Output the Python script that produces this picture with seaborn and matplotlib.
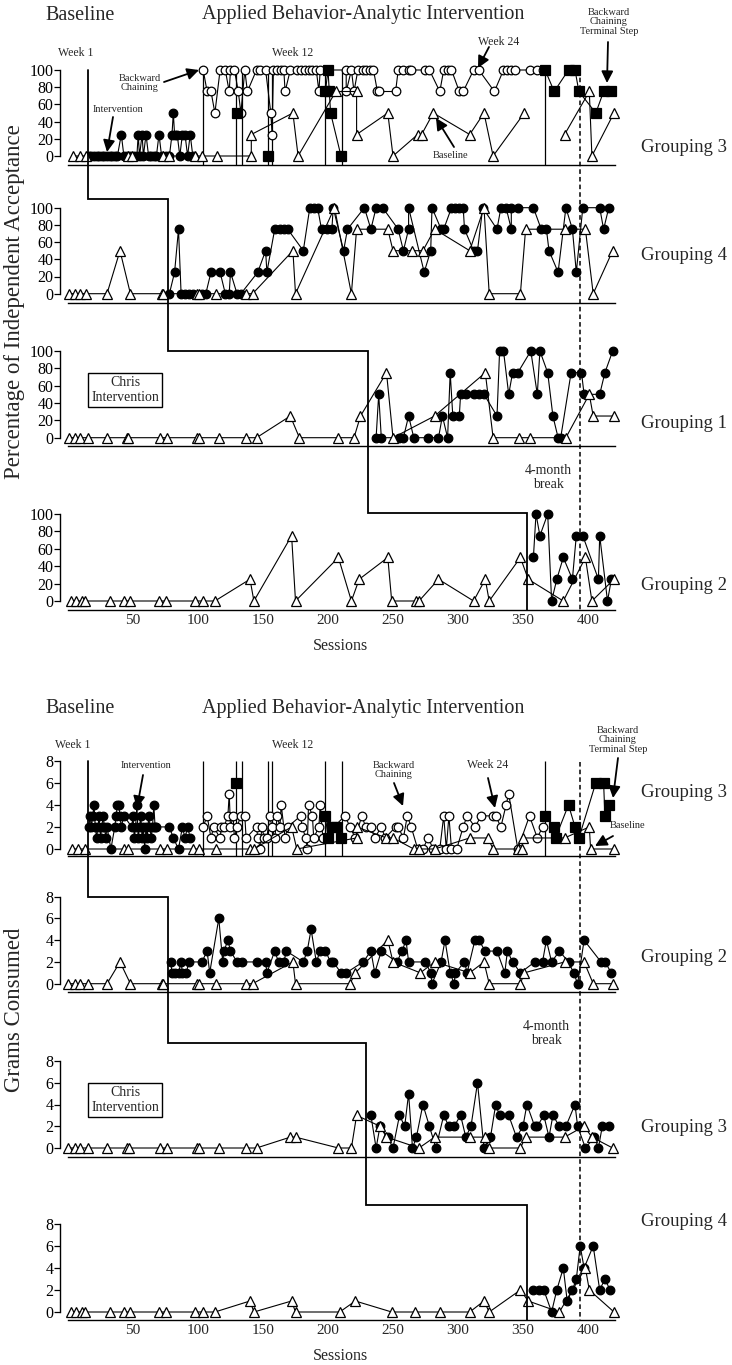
import matplotlib
matplotlib.use("Agg")
import matplotlib.pyplot as plt
import seaborn as sns

# ---------------- data: percentage of independent acceptance ----------------
# panel A1 (Grouping 3)
a1_tri_s = [4, 9, 14, 46, 49, 73, 78, 98, 103, 115, 141, 141, 173, 177, 206, 222, 222, 246, 250, 269,
            272, 281, 309, 320, 327, 351, 382, 401, 403, 420]
a1_tri_v = [0, 0, 0, 0, 0, 0, 0, 0, 0, 0, 0, 25, 50, 0, 75, 75, 25, 50, 0, 25,
            25, 50, 25, 50, 0, 50, 25, 75, 0, 50]
a1_tri_u = [0] * 26 + [1] * 4
a1_dot_s = [16, 18, 20, 22, 24, 26, 28, 30, 32, 34, 36, 38, 41, 43, 45, 48, 51, 53, 54, 55, 57, 58,
            60, 62, 64, 66, 68, 70, 72, 75, 78, 80, 81, 82, 84, 86, 88, 90, 92, 94, 96]
a1_dot_v = [0, 0, 0, 0, 0, 0, 0, 0, 0, 0, 0, 0, 25, 0, 0, 0, 0, 0, 25, 0, 25, 0,
            25, 0, 0, 0, 0, 25, 0, 0, 0, 25, 50, 25, 25, 0, 25, 25, 0, 25, 0]
a1_open_s = [104, 107, 110, 113, 117, 121, 124, 125, 128, 131, 133, 136, 138, 145, 148, 152, 156, 157,
             158, 161, 164, 166, 167, 171, 176, 179, 182, 185, 188, 191, 193, 194, 214, 214, 218, 220,
             223, 227, 229, 232, 235, 238, 239, 252, 254, 258, 262, 264, 275, 278, 286, 289, 292, 295,
             301, 304, 312, 316, 328, 335, 338, 341, 344, 355, 361, 365]
a1_open_v = [100, 75, 75, 50, 100, 100, 75, 100, 100, 75, 50, 100, 75, 100, 100, 100, 50, 25,
             100, 100, 100, 100, 75, 100, 100, 100, 100, 100, 100, 100, 75, 100, 100, 75, 100, 75,
             100, 100, 100, 100, 100, 75, 75, 75, 100, 100, 100, 100, 100, 100, 75, 100, 100, 100,
             75, 75, 100, 100, 75, 100, 100, 100, 100, 100, 100, 100]
a1_sq_s = [130, 154, 198, 200, 201, 202, 210, 367, 374, 385, 390, 393, 406, 412, 418]
a1_sq_v = [50, 0, 75, 100, 75, 50, 0, 100, 75, 100, 100, 75, 50, 75, 75]
a1_sq_u = [0, 1, 2, 2, 2, 2, 2, 3, 3, 3, 3, 3, 3, 3, 3]

# panel A2 (Grouping 4)
a2_tri_s = [1, 5, 9, 14, 30, 40, 48, 72, 73, 99, 101, 114, 137, 142, 173, 175, 205, 218, 222, 246,
            250, 265, 273, 282, 309, 320, 324, 348, 352, 382, 398, 404, 419]
a2_tri_v = [0, 0, 0, 0, 0, 50, 0, 0, 0, 0, 0, 0, 0, 0, 50, 0, 100, 0, 75, 75,
            50, 50, 50, 75, 50, 100, 0, 0, 75, 75, 75, 0, 50]
a2_dot_s = [78, 82, 85, 87, 90, 93, 96, 103, 106, 110, 117, 121, 124, 125, 130, 133, 146, 152, 153, 159,
            163, 166, 169, 181, 186, 189, 192, 195, 199, 203, 204, 212, 215, 228, 233, 237, 242, 254,
            258, 262, 262, 274, 279, 280, 287, 289, 295, 298, 301, 304, 305, 312, 315, 319, 330, 333,
            337, 341, 341, 346, 358, 364, 368, 370, 377, 383, 388, 391, 396, 409, 412, 416]
a2_dot_v = [0, 25, 75, 0, 0, 0, 0, 0, 0, 25, 25, 0, 0, 25, 0, 0, 25, 50, 25, 75,
            75, 75, 75, 50, 100, 100, 100, 75, 75, 75, 100, 50, 75, 100, 75, 100, 100, 75,
            50, 75, 100, 25, 50, 100, 75, 75, 100, 100, 100, 100, 75, 50, 50, 100, 75, 100,
            100, 75, 100, 100, 100, 75, 75, 50, 25, 100, 75, 25, 100, 100, 75, 100]

# panel A3 (Grouping 1)
a3_tri_s = [1, 5, 9, 15, 30, 45, 46, 71, 76, 99, 101, 116, 137, 145, 171, 178, 208, 220, 225, 245,
            250, 282, 321, 327, 347, 355, 383, 401, 404, 420]
a3_tri_v = [0, 0, 0, 0, 0, 0, 0, 0, 0, 0, 0, 0, 0, 0, 25, 0, 0, 0, 25, 75,
            0, 25, 75, 0, 0, 0, 0, 50, 25, 25]
a3_dot_s = [237, 239, 241, 255, 258, 262, 266, 277, 285, 288, 292, 294, 296, 301, 302, 306, 312, 316,
            320, 330, 332, 335, 339, 342, 346, 356, 361, 363, 369, 373, 377, 379, 387, 395, 397, 409,
            413, 419]
a3_dot_v = [0, 50, 0, 0, 0, 25, 0, 0, 0, 25, 0, 75, 25, 25, 50, 50, 50, 50,
            50, 25, 100, 100, 50, 75, 75, 100, 50, 100, 75, 25, 0, 0, 75, 75, 50, 50,
            75, 100]

# panel A4 (Grouping 2)
a4_tri_s = [2, 6, 11, 13, 32, 43, 48, 70, 75, 98, 104, 113, 140, 143, 172, 175, 208, 218, 224, 246,
            249, 268, 270, 285, 312, 321, 324, 348, 354, 381, 398, 403, 420]
a4_tri_v = [0, 0, 0, 0, 0, 0, 0, 0, 0, 0, 0, 0, 25, 0, 75, 0, 50, 0, 25, 50,
            0, 0, 0, 25, 0, 25, 0, 50, 25, 0, 50, 0, 25]
a4_dot_s = [358, 360, 363, 369, 372, 376, 381, 388, 391, 396, 408, 409, 415, 418]
a4_dot_v = [50, 100, 75, 100, 0, 25, 50, 25, 75, 75, 25, 75, 0, 25]

# ---------------- data: grams consumed ----------------
# panel B1 (Grouping 3)
b1_tri_s = [3, 8, 13, 43, 46, 71, 76, 96, 101, 114, 140, 143, 172, 176, 222, 222, 245, 250, 266, 270,
            282, 309, 323, 327, 346, 349, 350, 382, 401, 402, 420]
b1_tri_v = [0, 0, 0, 0, 0, 0, 0, 0, 0, 0, 0, 0, 2, 0, 1, 2, 1, 1, 0, 0,
            0, 1, 1, 0, 0, 0, 1, 1, 2, 0, 0]
b1_dot_s = [16, 17, 18, 19, 20, 21, 22, 23, 24, 25, 26, 27, 28, 29, 30, 33, 36, 37, 38, 39, 40, 41, 43,
            49, 50, 51, 52, 53, 54, 55, 56, 57, 58, 59, 60, 61, 62, 63, 64, 65, 66, 67, 68,
            78, 81, 85, 88, 90, 92, 94]
b1_dot_v = [2, 3, 2, 3, 4, 2, 1, 2, 3, 1, 2, 3, 2, 1, 2, 0, 2, 3, 4, 4, 3, 2, 3,
            2, 3, 1, 2, 4, 1, 2, 3, 1, 2, 0, 2, 1, 3, 2, 1, 2, 4, 2, 2,
            2, 1, 0, 2, 1, 2, 1]
b1_open_s = [104, 107, 110, 112, 117, 118, 120, 123, 124, 125, 127, 128, 130, 133, 136, 137, 145, 146,
             148, 149, 151, 153, 155, 157, 159, 161, 163, 164, 167, 169, 179, 180, 183, 184, 185, 188,
             189, 193, 194, 196, 213, 217, 221, 226, 229, 233, 236, 241, 244, 252, 254, 258, 261, 264,
             269, 273, 277, 281, 286, 289, 291, 293, 295, 299, 304, 307, 313, 318, 327, 329, 333, 337,
             339, 346, 355, 361, 365]
b1_open_v = [2, 3, 1, 2, 1, 2, 2, 3, 5, 2, 3, 1, 2, 3, 3, 1, 2, 1,
             0, 2, 1, 1, 3, 2, 1, 3, 2, 4, 1, 2, 3, 2, 1, 0, 4, 3,
             1, 2, 4, 1, 3, 2, 1, 3, 2, 2, 1, 2, 1, 2, 2, 1, 3, 2,
             0, 0, 1, 0, 0, 3, 0, 3, 0, 0, 2, 3, 2, 3, 3, 3, 2, 4,
             5, 0, 3, 1, 2]
b1_sq_s = [129, 198, 200, 203, 206, 210, 367, 374, 375, 385, 390, 393, 406, 412, 413, 416]
b1_sq_v = [6, 3, 1, 2, 2, 1, 3, 2, 1, 4, 2, 1, 6, 6, 3, 4]
b1_sq_u = [0, 1, 1, 1, 1, 1, 2, 2, 2, 2, 2, 2, 2, 2, 2, 2]

# panel B2 (Grouping 2)
b2_tri_s = [0, 5, 9, 15, 30, 40, 48, 72, 73, 99, 101, 114, 137, 142, 173, 175, 217, 221, 246, 250,
            271, 282, 309, 320, 324, 348, 351, 382, 397, 404, 419]
b2_tri_v = [0, 0, 0, 0, 0, 2, 0, 0, 0, 0, 0, 0, 0, 0, 2, 0, 0, 1, 4, 2,
            1, 2, 1, 2, 0, 0, 1, 2, 2, 0, 0]
b2_dot_s = [79, 80, 82, 85, 87, 88, 91, 93, 103, 107, 109, 116, 119, 120, 123, 125, 130, 134, 145, 152,
            153, 159, 162, 166, 168, 181, 184, 187, 191, 194, 198, 202, 204, 210, 214, 227, 233, 236,
            241, 253, 257, 260, 262, 275, 279, 280, 287, 290, 294, 297, 298, 305, 307, 313, 316, 321,
            330, 336, 338, 342, 348, 359, 365, 368, 372, 378, 385, 389, 392, 397, 410, 413, 418]
b2_dot_v = [2, 1, 1, 1, 2, 1, 1, 2, 2, 3, 1, 6, 2, 3, 4, 3, 2, 2, 2, 2,
            1, 3, 2, 2, 3, 2, 3, 5, 2, 3, 3, 2, 2, 1, 1, 2, 3, 1,
            3, 2, 3, 4, 2, 2, 1, 0, 2, 4, 1, 0, 1, 2, 1, 4, 4, 3,
            3, 1, 3, 2, 1, 2, 2, 4, 2, 3, 2, 1, 0, 4, 2, 2, 1]

# panel B3 (Grouping 3)
b3_tri_s = [0, 5, 9, 15, 30, 45, 47, 71, 76, 99, 101, 116, 137, 145, 171, 175, 208, 218, 222, 240,
            245, 270, 282, 309, 321, 324, 348, 352, 382, 397, 403, 419]
b3_tri_v = [0, 0, 0, 0, 0, 0, 0, 0, 0, 0, 0, 0, 0, 0, 1, 1, 0, 0, 3, 2,
            1, 0, 1, 1, 1, 0, 0, 1, 1, 2, 1, 0]
b3_dot_s = [233, 237, 240, 246, 250, 255, 259, 262, 265, 268, 273, 278, 283, 289, 293, 297, 302, 306,
            310, 315, 320, 325, 329, 332, 339, 345, 350, 353, 359, 361, 366, 370, 373, 378, 383, 390,
            392, 398, 405, 408, 411, 416]
b3_dot_v = [3, 0, 2, 1, 0, 3, 2, 5, 0, 1, 4, 2, 0, 3, 2, 2, 3, 1,
            2, 6, 0, 1, 4, 3, 3, 1, 2, 4, 2, 2, 3, 1, 3, 2, 2, 4,
            2, 0, 1, 0, 2, 2]

# panel B4 (Grouping 4)
b4_tri_s = [2, 6, 11, 13, 32, 43, 48, 70, 75, 98, 104, 113, 140, 143, 172, 175, 209, 221, 249, 267,
            286, 309, 320, 324, 348, 354, 378, 398, 401, 420]
b4_tri_v = [0, 0, 0, 0, 0, 0, 0, 0, 0, 0, 0, 0, 1, 0, 1, 0, 0, 1, 0, 0,
            0, 0, 1, 0, 2, 1, 0, 4, 2, 0]
b4_dot_s = [358, 362, 366, 372, 376, 381, 384, 388, 391, 394, 397, 404, 409, 413, 417]
b4_dot_v = [2, 2, 2, 0, 2, 4, 1, 2, 3, 6, 4, 6, 2, 3, 2]

# phase changes (sessions)
stair_top = [15, 77, 231, 353]
stair_bot = [15, 77, 229, 353]
phase_lines = [104, 129, 134, 154, 157, 198, 211, 367]
break_session = 394

top_labels = ["Grouping 3", "Grouping 4", "Grouping 1", "Grouping 2"]
bot_labels = ["Grouping 3", "Grouping 2", "Grouping 3", "Grouping 4"]

# ---------------- layout (pixels) ----------------
W, H = 732, 1365
S0, PXS = 68, 1.3           # pixel of session 0, pixels per session
XL = (-6, 425)
LEFT = S0 + XL[0] * PXS
RIGHT = S0 + XL[1] * PXS

sns.set_style("white")
plt.rcParams['font.family'] = ['Liberation Serif', 'DejaVu Serif']

fig = plt.figure(figsize=(W / 100, H / 100), dpi=100)

STYLES = {
    'tri': dict(marker='^', markersize=7.5, markerfacecolor='white'),
    'dot': dict(marker='o', markersize=6.2, markerfacecolor='black'),
    'open': dict(marker='o', markersize=6.2, markerfacecolor='white'),
    'sq': dict(marker='s', markersize=7, markerfacecolor='black'),
}


def series(ax, s, v, kind, units=None):
    if units is None:
        units = [0] * len(s)
    sns.lineplot(x=s, y=v, units=units, estimator=None, sort=False, ax=ax,
                 color='black', lw=0.8, markeredgecolor='black', markeredgewidth=0.9,
                 clip_on=False, legend=False, zorder=3, **STYLES[kind])


def panel(y0, ytop, yline, ymax, ticks, show_x):
    k = (y0 - ytop) / ymax
    line_v = (y0 - yline) / k
    lo = line_v - 4 / k
    hi = ymax + 14 / k
    top = y0 - hi * k
    bot = y0 - lo * k
    ax = fig.add_axes([LEFT / W, 1 - bot / H, (RIGHT - LEFT) / W, (bot - top) / H])
    ax.set_xlim(XL)
    ax.set_ylim(lo, hi)
    ax.patch.set_alpha(0)
    sns.despine(ax=ax)
    for sp in ('left', 'bottom'):
        ax.spines[sp].set_color('black')
        ax.spines[sp].set_linewidth(1.0)
    ax.spines['left'].set_bounds(0, ymax)
    ax.spines['bottom'].set_position(('data', line_v))
    ax.spines['bottom'].set_bounds(0, 421)
    ax.set_yticks(ticks)
    ax.tick_params(axis='y', direction='out', length=4, width=0.9, labelsize=11.5, pad=1,
                   left=True, colors='black')
    if show_x:
        ax.set_xticks([50, 100, 150, 200, 250, 300, 350, 400])
        ax.tick_params(axis='x', length=0, labelsize=11, pad=3)
        ax.set_xlabel("Sessions", fontsize=11.5, labelpad=8)
    else:
        ax.set_xticks([])
    return ax, line_v


# ---------------- top block ----------------
top_y0 = [156, 293.7, 437.7, 601]
top_ytop = [70, 207.7, 351, 514]
top_line = [165, 302.7, 446, 610]
top_axes = []
for i in range(4):
    ax, lv = panel(top_y0[i], top_ytop[i], top_line[i], 100, [0, 20, 40, 60, 80, 100], i == 3)
    top_axes.append((ax, lv))

ax, lv = top_axes[0]
ax.vlines(phase_lines, lv, 100, color='black', lw=0.9, zorder=1)
series(ax, a1_dot_s, a1_dot_v, 'dot')
series(ax, a1_open_s, a1_open_v, 'open')
series(ax, a1_sq_s, a1_sq_v, 'sq', a1_sq_u)
series(ax, a1_tri_s, a1_tri_v, 'tri', a1_tri_u)

series(top_axes[1][0], a2_dot_s, a2_dot_v, 'dot')
series(top_axes[1][0], a2_tri_s, a2_tri_v, 'tri')
series(top_axes[2][0], a3_dot_s, a3_dot_v, 'dot')
series(top_axes[2][0], a3_tri_s, a3_tri_v, 'tri')
series(top_axes[3][0], a4_dot_s, a4_dot_v, 'dot')
series(top_axes[3][0], a4_tri_s, a4_tri_v, 'tri')

# ---------------- bottom block ----------------
bot_y0 = [849, 983.7, 1148, 1312]
bot_ytop = [760.7, 896.7, 1061, 1224]
bot_line = [856, 992, 1157, 1320]
bot_axes = []
for i in range(4):
    ax, lv = panel(bot_y0[i], bot_ytop[i], bot_line[i], 8, [0, 2, 4, 6, 8], i == 3)
    bot_axes.append((ax, lv))

ax, lv = bot_axes[0]
ax.vlines(phase_lines, lv, 8, color='black', lw=0.9, zorder=1)
series(ax, b1_dot_s, b1_dot_v, 'dot')
series(ax, b1_open_s, b1_open_v, 'open')
series(ax, b1_sq_s, b1_sq_v, 'sq', b1_sq_u)
series(ax, b1_tri_s, b1_tri_v, 'tri')

series(bot_axes[1][0], b2_dot_s, b2_dot_v, 'dot')
series(bot_axes[1][0], b2_tri_s, b2_tri_v, 'tri')
series(bot_axes[2][0], b3_dot_s, b3_dot_v, 'dot')
series(bot_axes[2][0], b3_tri_s, b3_tri_v, 'tri')
series(bot_axes[3][0], b4_dot_s, b4_dot_v, 'dot')
series(bot_axes[3][0], b4_tri_s, b4_tri_v, 'tri')

# ---------------- overlay: staircase, break line, annotations ----------------
ov = fig.add_axes([LEFT / W, 0, (RIGHT - LEFT) / W, 1])
ov.set_xlim(XL)
ov.set_ylim(H, 0)
ov.axis('off')


def stair(sess, levels):
    xs, ys = [], []
    for j, s in enumerate(sess):
        xs += [s, s]
        ys += [levels[j], levels[j + 1]]
    ov.plot(xs, ys, color='black', lw=1.3, solid_joinstyle='miter')


stair(stair_top, [70, 199, 351, 513, 610])
stair(stair_bot, [761, 897, 1043, 1205, 1320])
ov.plot([break_session] * 2, [70, 611], color='black', lw=1.1, ls=(0, (3, 2)))
ov.plot([break_session] * 2, [762, 1321], color='black', lw=1.1, ls=(0, (3, 2)))


def px(x):
    return (x - S0) / PXS


def note(x, y, txt, fs=7.5):
    ov.text(px(x), y, txt, ha='center', va='center', fontsize=fs, linespacing=1.1, clip_on=False)


def arrow(x1, y1, x2, y2):
    ov.annotate('', xy=(px(x2), y2), xytext=(px(x1), y1),
                arrowprops=dict(arrowstyle='-|>,head_length=0.7,head_width=0.35', color='black',
                                lw=1.3, shrinkA=0, shrinkB=0), annotation_clip=False)


# top block notes
note(76, 53, "Week 1", 8.5)
note(293, 53, "Week 12", 8.5)
note(499, 42, "Week 24", 8.5)
arrow(489, 47, 478, 68)
note(140, 83, "Backward\nChaining")
arrow(164, 82, 199, 70)
note(118, 110, "Intervention")
arrow(113, 117, 107, 152)
note(451, 155, "Baseline")
arrow(454, 147, 436, 118)
note(609, 22, "Backward\nChaining\nTerminal Step")
arrow(608, 42, 607, 83)
note(548, 478, "4-month\nbreak", 10)
ov.text(px(125), 390, "Chris\nIntervention", ha='center', va='center', fontsize=10, linespacing=1.15,
        bbox=dict(boxstyle='square,pad=0.25', fc='white', ec='black', lw=1.0))

# bottom block notes
note(73, 745, "Week 1", 8.5)
note(293, 745, "Week 12", 8.5)
note(146, 765, "Intervention")
arrow(143, 775, 137, 808)
note(394, 770, "Backward\nChaining")
arrow(394, 783, 403, 806)
note(488, 765, "Week 24", 8.5)
arrow(488, 778, 495, 808)
note(618, 740, "Backward\nChaining\nTerminal Step")
arrow(618, 758, 613, 798)
note(628, 825, "Baseline")
arrow(613, 836, 595, 846)
note(546, 1034, "4-month\nbreak", 10)
ov.text(px(125), 1100, "Chris\nIntervention", ha='center', va='center', fontsize=10, linespacing=1.15,
        bbox=dict(boxstyle='square,pad=0.25', fc='white', ec='black', lw=1.0))

# titles and labels
for y in (15, 708):
    fig.text(80 / W, 1 - y / H, "Baseline", ha='center', va='center', fontsize=14.5)
    fig.text(363 / W, 1 - y / H, "Applied Behavior-Analytic Intervention", ha='center', va='center',
             fontsize=14.5)

for lab, y in zip(top_labels, [147, 255, 423, 585]):
    fig.text(641 / W, 1 - y / H, lab, ha='left', va='center', fontsize=13.5)
for lab, y in zip(bot_labels, [792, 958, 1127, 1222]):
    fig.text(641 / W, 1 - y / H, lab, ha='left', va='center', fontsize=13.5)

fig.text(15 / W, 1 - 302 / H, "Percentage of Independent Acceptance", rotation=90, ha='center',
         va='center', fontsize=16.5)
fig.text(15 / W, 1 - 1010 / H, "Grams Consumed", rotation=90, ha='center', va='center', fontsize=16.5)

fig.savefig("out.png", dpi=100)
